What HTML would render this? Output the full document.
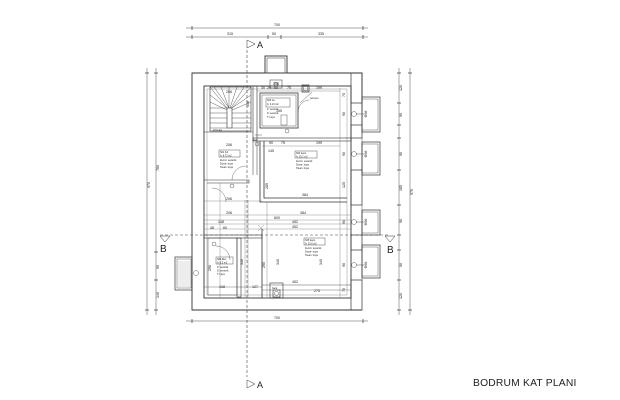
<!DOCTYPE html>
<html><head><meta charset="utf-8"><style>
html,body{margin:0;padding:0;background:#fff;}
svg{display:block;}
text{font-family:"Liberation Sans",sans-serif;fill:#222;}
.d{font-size:3.6px;}
.s{font-size:2.4px;}
</style></head><body>
<svg width="620" height="400" viewBox="0 0 620 400" xmlns="http://www.w3.org/2000/svg">
<rect width="620" height="400" fill="#fff"/>
<g stroke="#333" stroke-width="0.7" fill="none">
<!-- top dimension lines -->
<line x1="186" y1="28" x2="368" y2="28" stroke="#555" stroke-width="0.5"/>
<line x1="186" y1="37" x2="368" y2="37" stroke="#555" stroke-width="0.5"/>
<line x1="192" y1="26" x2="192" y2="30"/><line x1="363" y1="26" x2="363" y2="30"/>
<line x1="192" y1="35" x2="192" y2="39"/><line x1="268" y1="35" x2="268" y2="39"/><line x1="281" y1="35" x2="281" y2="39"/><line x1="363" y1="35" x2="363" y2="39"/>
<!-- bottom dimension -->
<line x1="186" y1="321" x2="368" y2="321" stroke="#555" stroke-width="0.5"/>
<line x1="192" y1="319" x2="192" y2="323"/><line x1="363" y1="319" x2="363" y2="323"/>
<!-- left dim lines -->
<line x1="147" y1="68" x2="147" y2="315" stroke="#555" stroke-width="0.5"/>
<line x1="156" y1="68" x2="156" y2="315" stroke="#555" stroke-width="0.5"/>
<line x1="145" y1="73" x2="149" y2="73"/><line x1="145" y1="310" x2="149" y2="310"/>
<line x1="154" y1="73" x2="158" y2="73"/><line x1="154" y1="252" x2="158" y2="252"/><line x1="154" y1="280" x2="158" y2="280"/><line x1="154" y1="310" x2="158" y2="310"/>
<!-- right dim lines -->
<line x1="399" y1="68" x2="399" y2="315" stroke="#555" stroke-width="0.5"/>
<line x1="410" y1="68" x2="410" y2="315" stroke="#555" stroke-width="0.5"/>
<g>
<line x1="397" y1="73" x2="401" y2="73"/><line x1="397" y1="103" x2="401" y2="103"/><line x1="397" y1="125" x2="401" y2="125"/><line x1="397" y1="138" x2="401" y2="138"/><line x1="397" y1="170" x2="401" y2="170"/><line x1="397" y1="205" x2="401" y2="205"/><line x1="397" y1="235" x2="401" y2="235"/><line x1="397" y1="250" x2="401" y2="250"/><line x1="397" y1="280" x2="401" y2="280"/><line x1="397" y1="310" x2="401" y2="310"/>
<line x1="408" y1="73" x2="412" y2="73"/><line x1="408" y1="310" x2="412" y2="310"/>
</g>

<!-- outer building -->
<polyline points="265,73 192,73 192,310 362,310" stroke-width="0.9"/>
<polyline points="287,73 362,73 362,103" stroke-width="0.9"/>
<rect x="265" y="56" width="22" height="17" stroke-width="0.9"/>
<rect x="267" y="58" width="18" height="15" stroke-width="0.5"/>
<!-- inner wall -->
<rect x="204" y="86" width="147" height="212" stroke-width="0.9"/>
<rect x="207" y="89" width="140" height="206" stroke-width="0.4" stroke="#777"/>
<!-- right piers -->
<rect x="351" y="73" width="11" height="30"/>
<rect x="351" y="125" width="11" height="13"/>
<rect x="351" y="170" width="11" height="35"/>
<rect x="351" y="235" width="11" height="15"/>
<rect x="351" y="280" width="11" height="30"/>
<!-- window bays -->
<rect x="362" y="97" width="18" height="35"/><rect x="362" y="99" width="16" height="31" stroke-width="0.4"/>
<rect x="362" y="142" width="18" height="33"/><rect x="362" y="144" width="16" height="29" stroke-width="0.4"/>
<rect x="362" y="210" width="18" height="25"/><rect x="362" y="212" width="16" height="21" stroke-width="0.4"/>
<rect x="362" y="245" width="18" height="33"/><rect x="362" y="247" width="16" height="29" stroke-width="0.4"/>
<g stroke-width="0.4">
<circle cx="354" cy="114" r="2.5"/><circle cx="354" cy="154" r="2.5"/><circle cx="354" cy="222" r="2.5"/><circle cx="354" cy="265" r="2.5"/>
<line x1="356" y1="114" x2="364" y2="114"/><line x1="356" y1="154" x2="364" y2="154"/><line x1="356" y1="222" x2="364" y2="222"/><line x1="356" y1="265" x2="364" y2="265"/>
<line x1="362" y1="103" x2="362" y2="125"/><line x1="362" y1="138" x2="362" y2="170"/><line x1="362" y1="205" x2="362" y2="235"/><line x1="362" y1="250" x2="362" y2="280"/>
</g>
<!-- left bay -->
<rect x="175" y="257" width="17" height="33"/>
<rect x="177" y="259" width="14" height="29" stroke-width="0.4"/>
<g stroke="#999" stroke-width="0.35">
<line x1="178" y1="262" x2="190" y2="262"/><line x1="178" y1="264" x2="190" y2="264"/><line x1="178" y1="266" x2="190" y2="266"/><line x1="178" y1="268" x2="190" y2="268"/><line x1="178" y1="270" x2="190" y2="270"/><line x1="178" y1="272" x2="190" y2="272"/><line x1="178" y1="274" x2="190" y2="274"/><line x1="178" y1="276" x2="190" y2="276"/><line x1="178" y1="278" x2="190" y2="278"/><line x1="178" y1="280" x2="190" y2="280"/><line x1="178" y1="282" x2="190" y2="282"/><line x1="178" y1="284" x2="190" y2="284"/><line x1="178" y1="286" x2="190" y2="286"/>
</g>
<circle cx="196" cy="273" r="2.5" stroke-width="0.4"/>

<!-- stairs -->
<rect x="210" y="87" width="41" height="44" stroke-width="0.6"/>
<rect x="227" y="108" width="5" height="20" stroke-width="0.6"/>
<g stroke-width="0.4">
<line x1="229" y1="108" x2="214" y2="87"/><line x1="229" y1="108" x2="221" y2="87"/><line x1="229" y1="108" x2="229" y2="87"/><line x1="230" y1="108" x2="237" y2="87"/><line x1="231" y1="108" x2="244" y2="87"/>
<line x1="227" y1="108" x2="210" y2="95"/><line x1="227" y1="110" x2="210" y2="102"/><line x1="232" y1="108" x2="251" y2="95"/><line x1="232" y1="110" x2="251" y2="102"/>
<line x1="210" y1="87" x2="227" y2="108"/><line x1="251" y1="87" x2="232" y2="108"/>
<line x1="210" y1="108" x2="227" y2="108"/><line x1="210" y1="113" x2="227" y2="113"/><line x1="210" y1="118" x2="227" y2="118"/><line x1="210" y1="123" x2="227" y2="123"/><line x1="210" y1="128" x2="227" y2="128"/>
<line x1="232" y1="113" x2="251" y2="113"/><line x1="232" y1="118" x2="251" y2="118"/><line x1="232" y1="123" x2="251" y2="123"/><line x1="232" y1="128" x2="251" y2="128"/>
</g>
<line x1="204" y1="132" x2="253" y2="132" stroke-width="0.5"/>
<!-- wall stair/wc -->
<rect x="253" y="86" width="4" height="54" stroke-width="0.6"/>
<!-- WC -->
<rect x="260" y="93" width="38" height="35" stroke-width="0.8"/>
<rect x="262" y="95" width="34" height="31" stroke-width="0.4"/>
<rect x="266" y="98" width="24" height="9" stroke-width="0.4"/>
<rect x="270" y="80" width="12" height="8" stroke-width="0.5"/>
<circle cx="276" cy="84" r="2" stroke-width="0.4"/>
<rect x="302" y="85" width="7" height="7" stroke-width="0.7"/>
<rect x="303.5" y="86.5" width="4" height="4" stroke-width="0.4"/>
<line x1="300" y1="103" x2="312" y2="92" stroke-width="0.4"/>
<path d="M 298 112 A 12 12 0 0 1 309 100" stroke-width="0.35"/>
<rect x="281" y="115" width="6" height="10" stroke-width="0.4"/>
<circle cx="287" cy="131" r="2" stroke-width="0.4"/>
<!-- horizontal wall -->
<rect x="253" y="138" width="98" height="3" stroke-width="0.6"/>
<line x1="255" y1="135" x2="262" y2="135" stroke-width="0.4"/>
<!-- depo S03 -->
<polyline points="260,141 260,202 347,202" stroke-width="0.8"/>
<polyline points="264,141 264,198 347,198" stroke-width="0.8"/>
<rect x="295" y="151" width="22" height="7" stroke-width="0.4"/>
<!-- hol S01 -->
<rect x="219" y="150" width="21" height="7" stroke-width="0.4"/>
<polyline points="204,180 249,180 249,183 207,183" stroke-width="0.6"/>
<line x1="253" y1="140" x2="253" y2="175" stroke-width="0.5"/>
<line x1="257" y1="140" x2="257" y2="175" stroke-width="0.5"/>
<circle cx="257" cy="144" r="2" stroke-width="0.4"/>
<path d="M 232 180 A 14 14 0 0 1 246 166" stroke-width="0.35"/>
<circle cx="232" cy="186" r="2" stroke-width="0.4"/>
<path d="M 212 188 A 14 14 0 0 1 226 202" stroke-width="0.35"/>
<!-- corridor lines -->
<g stroke="#666" stroke-width="0.35">
<line x1="204" y1="201" x2="262" y2="201"/>
<line x1="204" y1="215" x2="351" y2="215"/>
<line x1="204" y1="220" x2="351" y2="220"/>
<line x1="204" y1="224" x2="351" y2="224"/>
<line x1="204" y1="229" x2="351" y2="229"/>
<line x1="220" y1="183" x2="220" y2="297"/>
<line x1="245" y1="200" x2="245" y2="297"/>
<line x1="248" y1="200" x2="248" y2="297"/>
<line x1="267" y1="202" x2="267" y2="297"/>
<line x1="340" y1="88" x2="340" y2="297"/>
<line x1="258" y1="225" x2="264" y2="231"/><line x1="258" y1="231" x2="264" y2="225"/>
</g>
<!-- wall at B -->
<rect x="204" y="235" width="58" height="3" stroke-width="0.6"/>
<!-- S04 -->
<rect x="237" y="238" width="4" height="59" stroke-width="0.6"/>
<rect x="208" y="238" width="29" height="57" stroke-width="0.4"/>
<rect x="216" y="257" width="17" height="7" stroke-width="0.4"/>
<circle cx="214" cy="244" r="2" stroke-width="0.4"/>
<path d="M 216 246 A 14 14 0 0 1 230 260" stroke-width="0.35"/>
<!-- S05 -->
<line x1="262" y1="229" x2="262" y2="298" stroke-width="0.8"/>
<rect x="304" y="238" width="21" height="7" stroke-width="0.4"/>
<line x1="262" y1="285" x2="351" y2="285" stroke-width="0.4"/>
<rect x="270" y="283" width="13" height="15" stroke-width="0.6"/>
<rect x="273" y="290" width="7" height="7" stroke-width="0.6"/>
<circle cx="276.5" cy="293.5" r="2" stroke-width="0.4"/>
<line x1="204" y1="287" x2="262" y2="287" stroke-width="0.35"/>
<line x1="262" y1="290" x2="351" y2="290" stroke-width="0.35"/>
<line x1="262" y1="146" x2="340" y2="146" stroke-width="0.35" stroke="#666"/>
<line x1="257" y1="91" x2="340" y2="91" stroke-width="0.35" stroke="#666"/>

<!-- section lines -->
<line x1="247" y1="50" x2="247" y2="377" stroke="#444" stroke-width="0.6" stroke-dasharray="3,2"/>
<line x1="160" y1="235" x2="388" y2="235" stroke="#444" stroke-width="0.5" stroke-dasharray="3,2"/>
<path d="M 247 40 L 255 44 L 247 48 Z" stroke-width="0.5"/>
<path d="M 247 380 L 255 384 L 247 388 Z" stroke-width="0.5"/>
<path d="M 160 236 L 170 236 L 165 242 Z" stroke-width="0.5"/>
<path d="M 385 236 L 395 236 L 390 242 Z" stroke-width="0.5"/>
</g>

<!-- labels -->
<text x="257" y="48" font-size="9">A</text>
<text x="257" y="388" font-size="9">A</text>
<text x="160" y="252" font-size="10">B</text>
<text x="387" y="253" font-size="10">B</text>

<g class="d" text-anchor="middle">
<text x="277" y="26">700</text>
<text x="230" y="35">315</text>
<text x="274" y="35">50</text>
<text x="321" y="35">335</text>
<text x="277" y="319">700</text>
<text x="229" y="93">206</text>
<text x="229" y="146">206</text>
<text x="229" y="200">206</text>
<text x="229" y="214">206</text>
<text x="305" y="196">384</text>
<text x="303" y="214">384</text>
<text x="277" y="219">600</text>
<text x="295" y="223">452</text>
<text x="295" y="228">452</text>
<text x="295" y="283">452</text>
<text x="317" y="292">275</text>
<text x="222" y="288">108</text>
<text x="255" y="288">127</text>
<text x="221" y="223">148</text>
<text x="212" y="229">48</text>
<text x="225" y="229">60</text>
<text x="319" y="89">199</text>
<text x="319" y="144">199</text>
<text x="271" y="144">90</text>
<text x="283" y="144">75</text>
<text x="263" y="89">30</text>
<text x="269" y="89">29</text>
<text x="276" y="89">50</text>
<text x="289" y="89">75</text>
<text x="276" y="85">258</text>
<text x="279" y="112">155</text>
<text x="271" y="152">145</text>
<text x="249" y="104" transform="rotate(-90 249 104)">150</text>
<text x="268" y="186" transform="rotate(-90 268 186)">285</text>
<text x="345" y="114" transform="rotate(-90 345 114)">90</text>
<text x="345" y="154" transform="rotate(-90 345 154)">90</text>
<text x="345" y="222" transform="rotate(-90 345 222)">90</text>
<text x="345" y="265" transform="rotate(-90 345 265)">90</text>
<text x="345" y="185" transform="rotate(-90 345 185)">125</text>
<text x="345" y="95" transform="rotate(-90 345 95)">70</text>
<text x="345" y="290" transform="rotate(-90 345 290)">70</text>
<text x="367" y="114" transform="rotate(-90 367 114)">Φ66</text>
<text x="367" y="154" transform="rotate(-90 367 154)">Φ66</text>
<text x="367" y="222" transform="rotate(-90 367 222)">Φ66</text>
<text x="367" y="265" transform="rotate(-90 367 265)">Φ66</text>
<text x="279" y="262" transform="rotate(-90 279 262)">340</text>
<text x="243" y="262" transform="rotate(-90 243 262)">340</text>
<text x="265" y="265" transform="rotate(-90 265 265)">290</text>
<text x="322" y="262" transform="rotate(-90 322 262)">340</text>
<text x="211" y="268" transform="rotate(-90 211 268)">290</text>
<text x="402" y="88" transform="rotate(-90 402 88)">120</text>
<text x="402" y="115" transform="rotate(-90 402 115)">90</text>
<text x="402" y="154" transform="rotate(-90 402 154)">90</text>
<text x="402" y="188" transform="rotate(-90 402 188)">185</text>
<text x="402" y="221" transform="rotate(-90 402 221)">90</text>
<text x="402" y="265" transform="rotate(-90 402 265)">90</text>
<text x="402" y="296" transform="rotate(-90 402 296)">120</text>
<text x="413" y="192" transform="rotate(-90 413 192)">970</text>
<text x="150" y="185" transform="rotate(-90 150 185)">970</text>
<text x="159" y="168" transform="rotate(-90 159 168)">780</text>
<text x="159" y="267" transform="rotate(-90 159 267)">90</text>
<text x="159" y="295" transform="rotate(-90 159 295)">140</text>
</g>
<g class="s">
<text x="267" y="101">S02 wc</text><text x="267" y="105">A: 2.10 m2</text>
<text x="267" y="110">Z: seramik</text><text x="267" y="114">D: seramik</text><text x="267" y="118">T: boya</text>
<text x="220" y="153">S01 hol</text><text x="220" y="156.5">A: 8.72 m2</text>
<text x="220" y="161">Zemin: seramik</text><text x="220" y="164.5">Duvar: boya</text><text x="220" y="168">Tavan: boya</text>
<text x="296" y="154">S03 depo</text><text x="296" y="157.5">A: 19.1 m2</text>
<text x="296" y="162">Zemin: seramik</text><text x="296" y="165.5">Duvar: boya</text><text x="296" y="169">Tavan: boya</text>
<text x="305" y="241">S05 depo</text><text x="305" y="244.5">A: 23.6 m2</text>
<text x="305" y="249">Zemin: seramik</text><text x="305" y="252.5">Duvar: boya</text><text x="305" y="256">Tavan: boya</text>
<text x="217" y="260">S04 kiler</text><text x="217" y="263.5">A: 5.2 m2</text>
<text x="217" y="268">Z: seramik</text><text x="217" y="271.5">D: seramik</text><text x="217" y="275">T: boya</text>
<text x="213" y="131">201 kapı</text>
<text x="310" y="99">pencere</text>
<text x="272" y="289">baca</text>
</g>
<text x="473" y="386" font-size="10.3" style="font-family:'Liberation Sans',sans-serif;letter-spacing:0.2px" fill="#111">BODRUM KAT PLANI</text>
</svg>
</body></html>
